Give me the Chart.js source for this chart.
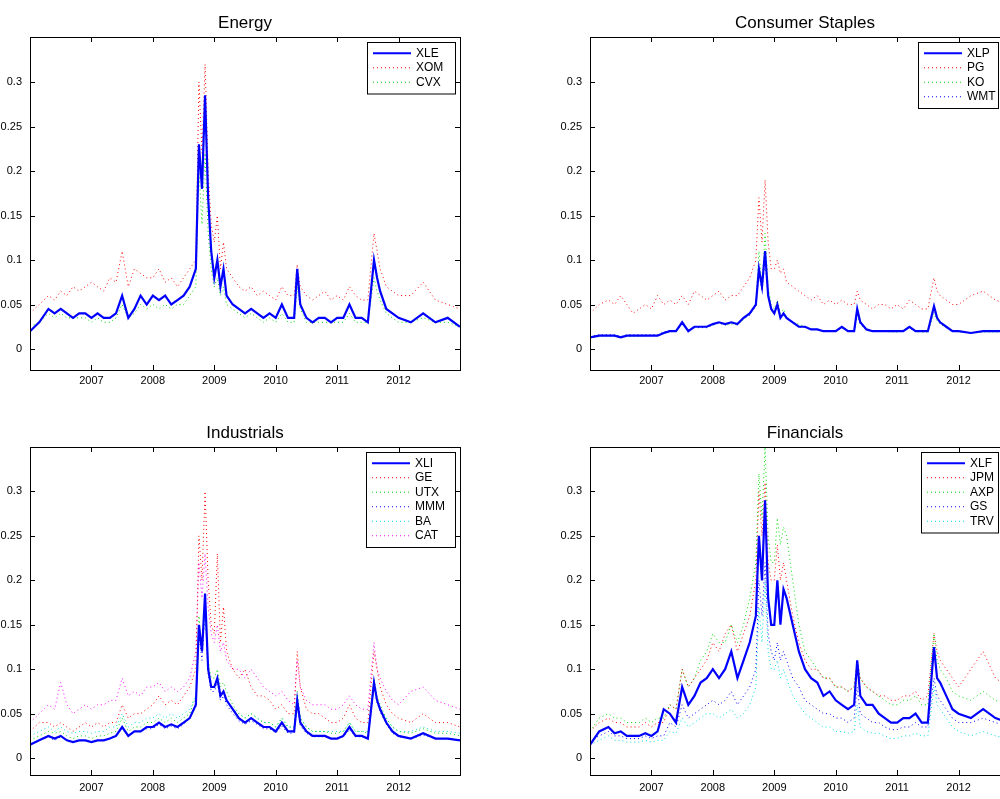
<!DOCTYPE html>
<html><head><meta charset="utf-8">
<script src="https://cdn.jsdelivr.net/npm/chart.js@4"></script>
<style>
html,body{margin:0;padding:0;background:#fff;overflow:hidden;width:1000px;height:799px;position:relative}
.c{position:absolute}
</style></head><body>
<div class="c" style="left:0;top:0;width:470px;height:395px"><canvas id="c1"></canvas></div>
<div class="c" style="left:560px;top:0;width:470px;height:395px"><canvas id="c2"></canvas></div>
<div class="c" style="left:0;top:410px;width:470px;height:390px"><canvas id="c3"></canvas></div>
<div class="c" style="left:560px;top:410px;width:470px;height:390px"><canvas id="c4"></canvas></div>
<script>
const dates = [2006.0,2006.15,2006.3,2006.4,2006.5,2006.6,2006.7,2006.8,2006.9,
2007.0,2007.1,2007.2,2007.3,2007.4,2007.5,2007.6,2007.7,2007.8,2007.9,
2008.0,2008.1,2008.2,2008.3,2008.4,2008.5,2008.6,2008.7,2008.75,2008.8,2008.85,2008.9,2008.95,
2009.0,2009.05,2009.1,2009.15,2009.2,2009.3,2009.4,2009.5,2009.6,2009.7,2009.8,2009.9,
2010.0,2010.1,2010.2,2010.3,2010.35,2010.4,2010.5,2010.6,2010.7,2010.8,2010.9,
2011.0,2011.1,2011.2,2011.3,2011.4,2011.5,2011.6,2011.65,2011.7,2011.8,2011.9,
2012.0,2012.2,2012.4,2012.6,2012.8,2013.0];
const yearTicks = [2007,2008,2009,2010,2011,2012];
const yTicks = [0,0.05,0.1,0.15,0.2,0.25,0.3];

// Energy
const XLE = [0.02,0.03,0.045,0.04,0.045,0.04,0.035,0.04,0.04,
0.035,0.04,0.035,0.035,0.04,0.06,0.035,0.045,0.06,0.05,
0.06,0.055,0.06,0.05,0.055,0.06,0.07,0.09,0.23,0.18,0.285,0.17,0.11,
0.08,0.1,0.07,0.09,0.06,0.05,0.045,0.04,0.045,0.04,0.035,0.04,
0.035,0.05,0.035,0.035,0.09,0.05,0.035,0.03,0.035,0.035,0.03,
0.035,0.035,0.05,0.035,0.035,0.03,0.1,0.08,0.065,0.045,0.04,
0.035,0.03,0.04,0.03,0.035,0.025];
const XOM = [0.04,0.05,0.06,0.055,0.065,0.06,0.07,0.065,0.07,
0.075,0.07,0.065,0.08,0.075,0.11,0.07,0.09,0.085,0.08,
0.08,0.09,0.075,0.08,0.07,0.08,0.09,0.1,0.3,0.22,0.32,0.2,0.14,
0.12,0.15,0.09,0.12,0.09,0.08,0.07,0.065,0.07,0.06,0.065,0.06,
0.055,0.07,0.06,0.06,0.095,0.07,0.06,0.055,0.06,0.065,0.055,
0.06,0.055,0.07,0.06,0.055,0.055,0.13,0.11,0.09,0.07,0.065,
0.06,0.06,0.075,0.055,0.05,0.045];
const CVX = [0.025,0.03,0.04,0.035,0.04,0.035,0.035,0.035,0.035,
0.03,0.035,0.03,0.03,0.035,0.05,0.035,0.04,0.05,0.045,
0.05,0.045,0.05,0.045,0.05,0.05,0.06,0.07,0.2,0.14,0.22,0.13,0.09,
0.07,0.08,0.06,0.07,0.05,0.045,0.04,0.035,0.04,0.035,0.03,0.035,
0.03,0.04,0.03,0.03,0.07,0.045,0.03,0.03,0.03,0.03,0.03,
0.03,0.03,0.04,0.03,0.03,0.03,0.08,0.065,0.055,0.04,0.035,
0.03,0.03,0.035,0.03,0.03,0.025];
// Consumer Staples
const XLP = [0.013,0.015,0.015,0.015,0.013,0.015,0.015,0.015,0.015,
0.015,0.015,0.018,0.02,0.02,0.03,0.02,0.025,0.025,0.025,
0.028,0.03,0.028,0.03,0.028,0.035,0.04,0.05,0.09,0.07,0.11,0.06,0.045,
0.04,0.05,0.035,0.04,0.035,0.03,0.025,0.025,0.022,0.022,0.02,0.02,
0.02,0.025,0.02,0.02,0.045,0.03,0.022,0.02,0.02,0.02,0.02,
0.02,0.02,0.025,0.02,0.02,0.02,0.048,0.035,0.03,0.025,0.02,
0.02,0.018,0.02,0.02,0.02,0.02];
const PG = [0.04,0.05,0.055,0.05,0.06,0.05,0.04,0.045,0.05,
0.045,0.06,0.05,0.055,0.05,0.06,0.05,0.065,0.06,0.055,
0.06,0.065,0.055,0.06,0.06,0.07,0.08,0.1,0.17,0.12,0.19,0.12,0.09,
0.09,0.1,0.085,0.09,0.075,0.07,0.065,0.06,0.055,0.06,0.05,0.055,
0.05,0.055,0.05,0.05,0.065,0.055,0.05,0.045,0.05,0.05,0.045,
0.05,0.045,0.055,0.05,0.045,0.045,0.08,0.065,0.06,0.055,0.05,
0.05,0.06,0.065,0.055,0.05,0.045];
const KO = [0.012,0.014,0.015,0.014,0.013,0.014,0.014,0.014,0.015,
0.015,0.015,0.017,0.02,0.02,0.028,0.02,0.025,0.025,0.025,
0.027,0.03,0.027,0.028,0.027,0.033,0.04,0.05,0.11,0.07,0.13,0.07,0.05,
0.045,0.055,0.04,0.045,0.035,0.03,0.028,0.025,0.022,0.022,0.02,0.02,
0.02,0.024,0.02,0.02,0.04,0.028,0.021,0.02,0.02,0.02,0.019,
0.019,0.02,0.024,0.02,0.019,0.019,0.04,0.032,0.028,0.024,0.02,
0.019,0.018,0.019,0.019,0.019,0.019];
const WMT = [0.014,0.016,0.016,0.016,0.014,0.016,0.016,0.016,0.016,
0.016,0.016,0.019,0.021,0.02,0.028,0.021,0.024,0.024,0.024,
0.027,0.029,0.027,0.029,0.027,0.034,0.038,0.048,0.085,0.065,0.1,0.058,0.045,
0.04,0.048,0.035,0.04,0.034,0.03,0.025,0.024,0.022,0.022,0.02,0.02,
0.02,0.024,0.02,0.02,0.04,0.028,0.022,0.02,0.02,0.02,0.02,
0.02,0.02,0.024,0.02,0.02,0.02,0.045,0.034,0.03,0.025,0.02,
0.02,0.018,0.02,0.02,0.02,0.02];
// Industrials
const XLI = [0.015,0.02,0.025,0.022,0.025,0.02,0.018,0.02,0.02,
0.018,0.02,0.02,0.022,0.025,0.035,0.025,0.03,0.03,0.035,
0.035,0.04,0.035,0.038,0.035,0.04,0.045,0.06,0.15,0.12,0.185,0.1,0.08,
0.08,0.09,0.07,0.075,0.065,0.055,0.045,0.04,0.045,0.04,0.035,0.035,
0.03,0.04,0.03,0.03,0.065,0.04,0.03,0.025,0.025,0.025,0.022,
0.022,0.025,0.035,0.025,0.025,0.022,0.085,0.065,0.055,0.04,0.03,
0.025,0.022,0.028,0.022,0.022,0.02];
const GE = [0.03,0.04,0.04,0.035,0.04,0.035,0.03,0.035,0.04,
0.035,0.04,0.035,0.04,0.04,0.06,0.045,0.05,0.05,0.055,
0.06,0.07,0.06,0.065,0.06,0.07,0.08,0.1,0.25,0.2,0.3,0.2,0.15,
0.14,0.23,0.13,0.17,0.12,0.1,0.09,0.1,0.08,0.07,0.07,0.065,
0.055,0.06,0.05,0.05,0.12,0.08,0.055,0.05,0.05,0.045,0.04,
0.04,0.045,0.06,0.045,0.04,0.04,0.12,0.1,0.08,0.06,0.05,
0.045,0.04,0.05,0.04,0.04,0.035];
const UTX = [0.02,0.025,0.03,0.028,0.03,0.025,0.022,0.025,0.025,
0.022,0.025,0.025,0.028,0.03,0.045,0.03,0.035,0.035,0.04,
0.04,0.045,0.04,0.045,0.04,0.045,0.05,0.07,0.16,0.12,0.17,0.11,0.09,
0.09,0.1,0.08,0.085,0.075,0.06,0.05,0.045,0.05,0.045,0.04,0.04,
0.035,0.045,0.035,0.035,0.075,0.045,0.035,0.03,0.03,0.03,0.028,
0.028,0.03,0.04,0.03,0.03,0.028,0.09,0.07,0.06,0.045,0.035,
0.03,0.028,0.033,0.028,0.028,0.025];
const MMM = [0.016,0.02,0.024,0.02,0.024,0.02,0.018,0.02,0.02,
0.018,0.02,0.02,0.022,0.026,0.035,0.026,0.03,0.03,0.033,
0.033,0.038,0.033,0.036,0.033,0.038,0.045,0.058,0.14,0.11,0.17,0.095,0.075,
0.075,0.085,0.065,0.07,0.06,0.05,0.042,0.038,0.042,0.038,0.033,0.033,
0.028,0.036,0.028,0.028,0.06,0.036,0.028,0.024,0.024,0.024,0.022,
0.022,0.024,0.032,0.024,0.024,0.022,0.08,0.062,0.052,0.038,0.028,
0.024,0.022,0.026,0.022,0.022,0.02];
const BA = [0.025,0.03,0.035,0.03,0.035,0.03,0.028,0.03,0.03,
0.028,0.03,0.03,0.035,0.035,0.05,0.035,0.04,0.04,0.045,
0.045,0.05,0.045,0.05,0.045,0.05,0.055,0.07,0.15,0.12,0.16,0.1,0.08,
0.08,0.09,0.07,0.075,0.065,0.055,0.05,0.045,0.05,0.045,0.04,0.04,
0.035,0.045,0.035,0.035,0.07,0.045,0.035,0.03,0.03,0.03,0.03,
0.03,0.03,0.04,0.03,0.03,0.03,0.08,0.065,0.055,0.045,0.035,
0.03,0.03,0.035,0.03,0.03,0.028];
const CAT = [0.04,0.05,0.06,0.055,0.085,0.06,0.05,0.055,0.06,
0.055,0.06,0.06,0.065,0.065,0.09,0.07,0.075,0.07,0.08,
0.08,0.085,0.075,0.08,0.075,0.08,0.09,0.12,0.22,0.18,0.23,0.17,0.14,
0.13,0.15,0.12,0.13,0.11,0.1,0.1,0.09,0.1,0.09,0.08,0.075,
0.07,0.075,0.065,0.06,0.11,0.08,0.065,0.06,0.06,0.06,0.055,
0.055,0.06,0.07,0.06,0.055,0.055,0.13,0.1,0.09,0.075,0.065,
0.06,0.075,0.08,0.065,0.06,0.055];
// Financials
const XLF = [0.015,0.03,0.035,0.028,0.03,0.025,0.025,0.025,0.028,
0.025,0.03,0.055,0.05,0.04,0.08,0.06,0.07,0.085,0.09,
0.1,0.09,0.1,0.12,0.09,0.11,0.13,0.16,0.25,0.2,0.29,0.18,0.15,
0.15,0.2,0.15,0.19,0.18,0.15,0.12,0.1,0.09,0.085,0.07,0.075,
0.065,0.06,0.055,0.06,0.11,0.07,0.06,0.06,0.05,0.045,0.04,
0.04,0.045,0.045,0.05,0.04,0.04,0.125,0.09,0.085,0.07,0.055,
0.05,0.045,0.055,0.045,0.04,0.035];
const JPM = [0.03,0.04,0.045,0.04,0.04,0.035,0.035,0.035,0.04,
0.035,0.04,0.04,0.06,0.055,0.1,0.08,0.09,0.1,0.11,
0.13,0.12,0.14,0.15,0.12,0.14,0.16,0.2,0.3,0.25,0.31,0.22,0.2,
0.2,0.24,0.2,0.22,0.2,0.16,0.13,0.11,0.1,0.1,0.09,0.09,
0.08,0.08,0.075,0.08,0.11,0.09,0.08,0.075,0.07,0.07,0.065,
0.065,0.07,0.07,0.075,0.065,0.07,0.14,0.12,0.11,0.1,0.09,
0.08,0.1,0.12,0.09,0.08,0.065];
const AXP = [0.03,0.045,0.05,0.045,0.045,0.04,0.04,0.04,0.045,
0.04,0.045,0.045,0.06,0.055,0.1,0.08,0.09,0.11,0.12,
0.14,0.13,0.13,0.15,0.13,0.15,0.18,0.22,0.32,0.27,0.35,0.25,0.22,
0.22,0.27,0.24,0.26,0.25,0.2,0.15,0.12,0.11,0.1,0.09,0.09,
0.08,0.08,0.075,0.08,0.11,0.09,0.08,0.075,0.07,0.065,0.06,
0.06,0.065,0.065,0.07,0.06,0.06,0.14,0.11,0.1,0.09,0.075,
0.07,0.065,0.075,0.065,0.06,0.055];
const GS = [0.02,0.025,0.03,0.025,0.025,0.022,0.022,0.022,0.025,
0.022,0.025,0.025,0.04,0.035,0.06,0.045,0.05,0.055,0.06,
0.065,0.06,0.065,0.075,0.06,0.07,0.08,0.1,0.2,0.16,0.22,0.14,0.12,
0.11,0.13,0.11,0.12,0.11,0.09,0.08,0.065,0.06,0.055,0.05,0.05,
0.045,0.045,0.04,0.045,0.08,0.05,0.045,0.04,0.04,0.035,0.032,
0.032,0.035,0.035,0.04,0.035,0.035,0.09,0.07,0.065,0.055,0.045,
0.04,0.04,0.045,0.04,0.035,0.032];
const TRV = [0.015,0.02,0.025,0.02,0.02,0.018,0.018,0.018,0.02,
0.018,0.02,0.02,0.03,0.028,0.045,0.035,0.04,0.045,0.05,
0.05,0.045,0.05,0.055,0.045,0.05,0.06,0.08,0.17,0.13,0.2,0.12,0.1,
0.1,0.11,0.09,0.1,0.09,0.07,0.06,0.05,0.045,0.04,0.035,0.035,
0.03,0.03,0.028,0.03,0.06,0.035,0.03,0.028,0.028,0.025,0.022,
0.022,0.025,0.025,0.028,0.025,0.025,0.08,0.06,0.055,0.045,0.035,
0.03,0.025,0.03,0.025,0.022,0.02];

const RED='#ff0000',GRN='#00dd00',BLU='#0000ff',CYN='#00dddd',MAG='#ff00ff';
const FONT='"Liberation Sans", Arial, sans-serif';

function mk(id,title,series,ymin,ymax,legW,legRight,labOff){
  const ds = series.map((s,i)=>({label:s[0],data:s[1].map((v,k)=>({x:dates[k],y:v})),
    borderColor:s[2],borderWidth:i===0?2.2:1,borderDash:i===0?[]:[1,3],pointRadius:0,tension:0,order:i===0?0:1}));
  const plug={id:'m',afterDraw(c){
    const g=c.ctx,a=c.chartArea;
    g.save();
    g.strokeStyle='#000';g.lineWidth=1;
    g.strokeRect(Math.round(a.left)+0.5,Math.round(a.top)+0.5,Math.round(a.width),Math.round(a.height));
    const xs=c.scales.x,ys=c.scales.y;
    g.beginPath();
    yearTicks.forEach(t=>{const px=Math.round(xs.getPixelForValue(t))+0.5;g.moveTo(px,a.bottom);g.lineTo(px,a.bottom-5);g.moveTo(px,a.top);g.lineTo(px,a.top+5);});
    yTicks.forEach(t=>{const py=Math.round(ys.getPixelForValue(t))+0.5;g.moveTo(a.left,py);g.lineTo(a.left+5,py);g.moveTo(a.right,py);g.lineTo(a.right-5,py);});
    g.stroke();
    g.fillStyle='#000';g.font='11px '+FONT;
    g.textAlign='center';g.textBaseline='top';
    yearTicks.forEach(t=>g.fillText(String(t),xs.getPixelForValue(t),a.bottom+labOff));
    g.textAlign='right';g.textBaseline='middle';
    yTicks.forEach(t=>g.fillText(String(t),a.left-8,ys.getPixelForValue(t)));
    g.font='17px '+FONT;g.textAlign='center';g.textBaseline='bottom';
    g.fillText(title,(a.left+a.right)/2,a.top-5);
    const lh=14.5, w=legW, h=series.length*lh+8;
    const lx=legRight-w, ly=a.top+5;
    g.fillStyle='#fff';g.fillRect(lx,ly,w,h);
    g.strokeRect(lx+0.5,ly+0.5,w,h);
    g.font='12px '+FONT;g.textAlign='left';g.textBaseline='middle';
    series.forEach((s,i)=>{
      const yy=ly+4+lh*(i+0.5);
      g.strokeStyle=s[2];g.lineWidth=i===0?2.2:1;g.setLineDash(i===0?[]:[1,3]);
      g.beginPath();g.moveTo(lx+6,yy);g.lineTo(lx+44,yy);g.stroke();
      g.setLineDash([]);g.fillStyle='#000';g.fillText(s[0],lx+49,yy);
    });
    g.restore();
  }};
  new Chart(document.getElementById(id),{type:'line',data:{datasets:ds},plugins:[plug],
    options:{responsive:true,maintainAspectRatio:false,animation:false,
      layout:{padding:{top:37,right:10,left:0,bottom:0}},
      plugins:{legend:{display:false},tooltip:{enabled:false}},
      scales:{
        x:{type:'linear',min:2006,max:2013,afterFit:s=>{s.height=25;},grid:{display:false},border:{display:false},ticks:{display:false}},
        y:{min:ymin,max:ymax,afterFit:s=>{s.width=30;},grid:{display:false},border:{display:false},ticks:{display:false}}
      }}});
}
mk('c1','Energy',[['XLE',XLE,BLU],['XOM',XOM,RED],['CVX',CVX,GRN]],-0.0236,0.3506,88,455,5);
mk('c2','Consumer Staples',[['XLP',XLP,BLU],['PG',PG,RED],['KO',KO,GRN],['WMT',WMT,BLU]],-0.0236,0.3506,80,438,5);
mk('c3','Industrials',[['XLI',XLI,BLU],['GE',GE,RED],['UTX',UTX,GRN],['MMM',MMM,BLU],['BA',BA,CYN],['CAT',CAT,MAG]],-0.019,0.35,89,455,7);
mk('c4','Financials',[['XLF',XLF,BLU],['JPM',JPM,RED],['AXP',AXP,GRN],['GS',GS,BLU],['TRV',TRV,CYN]],-0.019,0.35,77,438,7);
</script></body></html>
